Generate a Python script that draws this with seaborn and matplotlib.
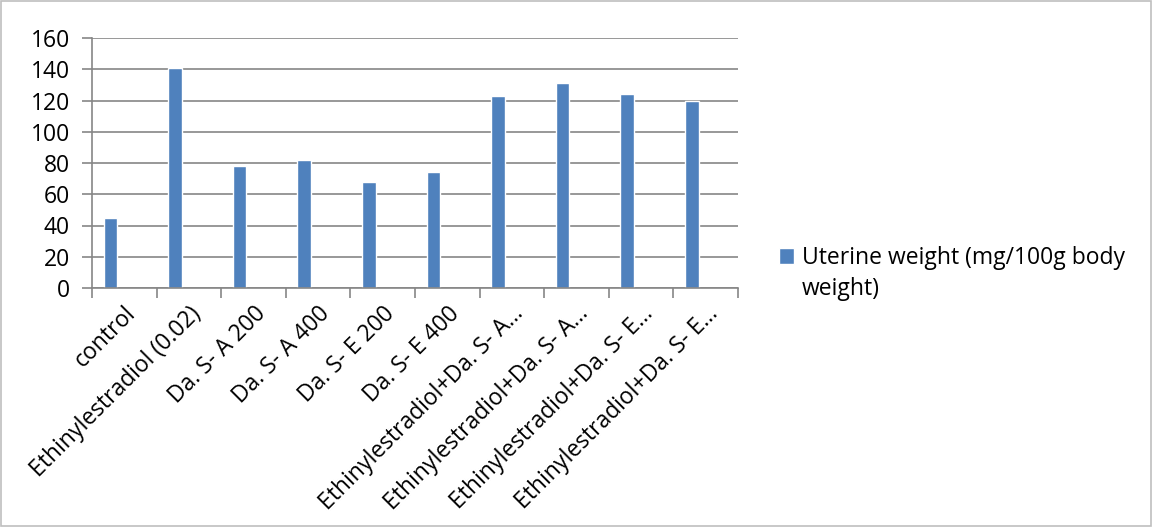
import matplotlib
matplotlib.use("Agg")
import matplotlib.pyplot as plt
import seaborn as sns
import pandas as pd
from matplotlib.patches import Rectangle

categories = [
    "control",
    "Ethinylestradiol (0.02)",
    "Da. S- A 200",
    "Da. S- A 400",
    "Da. S- E 200",
    "Da. S- E 400",
    "Ethinylestradiol+Da. S- A…",
    "Ethinylestradiol+Da. S- A… ",
    "Ethinylestradiol+Da. S- E…",
    "Ethinylestradiol+Da. S- E… ",
]
values = [45, 141, 78, 82, 68, 74, 123, 131, 124, 120]
series_name = "Uterine weight (mg/100g body\nweight)"
yticks = [0, 20, 40, 60, 80, 100, 120, 140, 160]

sns.set_theme(style="white")
plt.rcParams["font.family"] = ["Open Sans", "DejaVu Sans"]
FS = 16.5

df = pd.DataFrame({"cat": categories, "val": values, "series": series_name})

fig = plt.figure(figsize=(11.52, 5.27), dpi=100)
ax = fig.add_axes([92 / 1152, 1 - 288 / 527, (738 - 92) / 1152, (288 - 38) / 527])

sns.barplot(data=df, x="cat", y="val", hue="series", palette=["#4F81BD"],
            width=0.21, ax=ax, legend=True, saturation=1)

# Excel-style cluster offset (second, empty series slot)
for p in ax.patches:
    p.set_x(p.get_x() - 0.215)

ax.set_xlim(-0.5, len(categories) - 0.5)
ax.set_ylim(0, 160)
ax.set_yticks(yticks)
ax.set_yticklabels([str(v) for v in yticks], fontsize=FS, color="black")
ax.set_xlabel("")
ax.set_ylabel("")
ax.yaxis.grid(True, color="#868686", linewidth=1.2)
ax.set_axisbelow(True)

for s in ["top", "right"]:
    ax.spines[s].set_visible(False)
for s in ["left", "bottom"]:
    ax.spines[s].set_color("#868686")
    ax.spines[s].set_linewidth(1.2)

ax.set_xticks(range(len(categories)))
ax.set_xticklabels([c.strip() for c in categories], rotation=45, ha="right",
                   rotation_mode="anchor", fontsize=FS, color="black")
ax.tick_params(axis="x", which="major", length=0, pad=10)
ax.set_xticks([i - 0.5 for i in range(len(categories) + 1)], minor=True)
ax.tick_params(axis="x", which="minor", length=7, color="#868686", width=1.2, bottom=True)
ax.tick_params(axis="y", which="major", length=7, color="#868686", width=1.2, left=True, pad=9)

leg = ax.get_legend()
leg.remove()
handles, _ = ax.get_legend_handles_labels()
blank = Rectangle((0, 0), 1, 1, fill=False, edgecolor="none", visible=False)
label_lines = series_name.split("\n")
fig.legend([handles[0], blank], label_lines, loc="upper left",
           bbox_to_anchor=(770 / 1152, 1 - 237 / 527),
           frameon=False, fontsize=FS, handlelength=0.65, handleheight=0.65,
           handletextpad=0.35, borderaxespad=0, labelspacing=0.3, labelcolor="black")

fig.patches.append(Rectangle((0.001, 0.001), 0.998, 0.997, transform=fig.transFigure,
                             fill=False, edgecolor="#BFBFBF", linewidth=1.2))

fig.savefig("out.png", dpi=100)
